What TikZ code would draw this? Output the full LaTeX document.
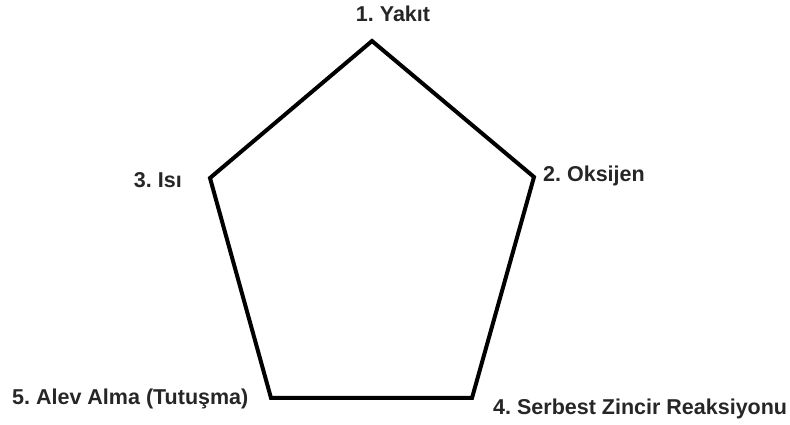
\documentclass[tikz,border=0pt]{standalone}
\usepackage{fontspec}
\setmainfont{Liberation Sans}
\usepackage{tikz}
\usetikzlibrary{positioning}
\frenchspacing
\tikzstyle{corner} = [font=\fontsize{21.5}{25}\selectfont\bfseries, text=black!85, inner sep=0pt]
\tikzstyle{edge} = [line width=4pt, line join=miter, black]

\begin{document}
\begin{tikzpicture}[x=1pt, y=1pt]
  \useasboundingbox (0,0) rectangle (790,425);
  % pentagon corners
  \coordinate (top) at (372,384);
  \coordinate (right) at (534,248);
  \coordinate (botright) at (472,27);
  \coordinate (botleft) at (271,27);
  \coordinate (left) at (210,247);

  \draw[edge] (top) -- (right) -- (botright) -- (botleft) -- (left) -- cycle;

  \node[corner, anchor=base] (yakit) at (393,403) {1. Yakıt};
  \node[corner, anchor=base west] (oksijen) at (543,243) {2. Oksijen};
  \node[corner, anchor=base east] (isi) at (182,237) {3. Isı};
  \node[corner, anchor=base west] (serbest) at (493,10) {4. Serbest Zincir Reaksiyonu};
  \node[corner, anchor=base west] (alev) at (12,20) {5. Alev Alma (Tutuşma)};
\end{tikzpicture}
\end{document}
